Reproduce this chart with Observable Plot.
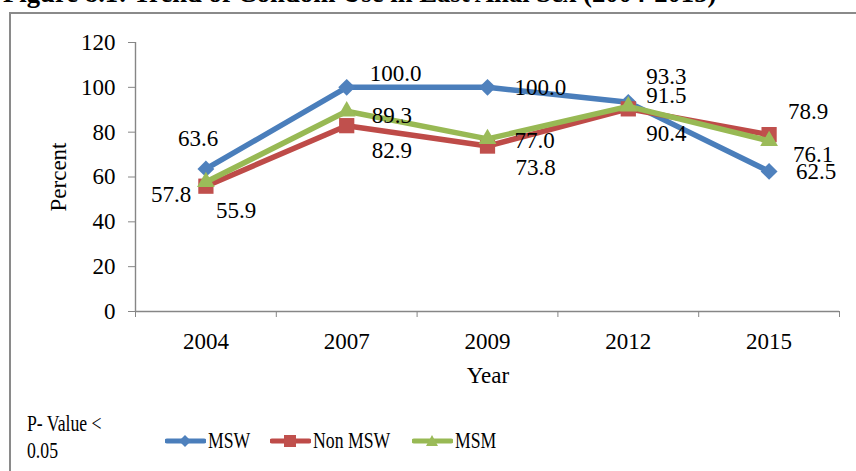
<!DOCTYPE html>
<html>
<head>
<meta charset="utf-8">
<script src="https://cdn.jsdelivr.net/npm/d3@7"></script>
<script src="https://cdn.jsdelivr.net/npm/@observablehq/plot@0.6"></script>
<style>
  html, body { margin: 0; padding: 0; background: #fff; overflow: hidden; }
  #wrap { position: relative; width: 856px; height: 471px; overflow: hidden; font-family: "Liberation Serif", "Times New Roman", serif; color: #000; }
  #frame { position: absolute; left: 9px; top: 12px; width: 900px; height: 520px; border: 2px solid #8a8a8a; box-sizing: border-box; }
  #title { position: absolute; left: 3px; top: -22px; font-weight: bold; font-size: 26.7px; white-space: nowrap; line-height: 30px; }
  #chart { position: absolute; left: 0; top: 0; }
  #chart text { font-family: "Liberation Serif", "Times New Roman", serif !important; }
  .txt { position: absolute; font-size: 23px; white-space: nowrap; line-height: 1; }
  .cond { transform-origin: left center; transform: scaleX(0.77); }
  #ylab { left: 57.5px; top: 177px; transform: translate(-50%, -50%) rotate(-90deg); }
  #xlab { left: 488px; top: 375px; transform: translate(-50%, -50%); }
  .leg { position: absolute; top: 429px; height: 24px; display: flex; align-items: center; }
  .leg svg { display: block; }
  .leg span { font-size: 23px; display: inline-block; transform-origin: left center; transform: scaleX(0.77); margin-left: 2px; }
</style>
</head>
<body>
<div id="wrap">
  <div id="frame"></div>
  <div id="title">Figure 8.1: Trend of Condom Use in Last Anal Sex (2004-2015)</div>
  <div id="chart"></div>
  <div id="ylab" class="txt">Percent</div>
  <div id="xlab" class="txt">Year</div>
  <div class="txt cond" style="left:27px; top:412px;">P- Value &lt;</div>
  <div class="txt cond" style="left:27px; top:439px;">0.05</div>
  <div id="legend"></div>
</div>
<script>
// ---- data ----
const years = ["2004", "2007", "2009", "2012", "2015"];
const msw = [63.6, 100.0, 100.0, 93.3, 62.5];
const nonMsw = [55.9, 82.9, 73.8, 90.4, 78.9];
const msm = [57.8, 89.3, 77.0, 91.5, 76.1];
const seriesNames = ["MSW", "Non MSW", "MSM"];
const yTicks = [0, 20, 40, 60, 80, 100, 120];

// ---- style ----
const serif = '"Liberation Serif", "Times New Roman", serif';
const axisColor = "#868686";
const styles = {
  "MSW":     {line: "#4A7EBB", fill: "#4F81BD", symbol: "diamond2", r: 7.6},
  "Non MSW": {line: "#BE4B48", fill: "#C0504D", symbol: "square", r: 8.6},
  "MSM":     {line: "#98B954", fill: "#9BBB59", symbol: "triangle", r: 6.6}
};
// label offsets (px) relative to each point: [dx, dy]
const labelOffsets = {
  "MSW":     [[-28, -30], [23, -14], [27, 0], [18, -26], [27, 0]],
  "Non MSW": [[10, 24], [25, 25], [28, 22], [18, 25], [19, -23]],
  "MSM":     [[-55, 13], [25, 4], [27, 2], [18, -11], [24, 14]]
};

const valuesBySeries = {"MSW": msw, "Non MSW": nonMsw, "MSM": msm};
const rowsBySeries = {};
for (const s of seriesNames) {
  rowsBySeries[s] = years.map((yr, i) => ({i, year: yr, series: s, value: valuesBySeries[s][i]}));
}

const idx = years.map((_, i) => i);
const bounds = d3.range(-0.5, years.length, 1);

const marks = [
  Plot.ruleY([0], {x1: -0.5, x2: years.length - 0.5, stroke: axisColor, strokeWidth: 1.4}),
  Plot.ruleX([-0.5], {y1: 0, y2: 120, stroke: axisColor, strokeWidth: 1.4}),
  Plot.axisY({ticks: yTicks, tickSize: 7, tickPadding: 13, stroke: axisColor, label: null, tickFormat: d => String(d), fontFamily: serif, fontSize: 23}),
  Plot.axisX({ticks: bounds, tickSize: 6, tickFormat: () => "", stroke: axisColor, label: null}),
  Plot.axisX({ticks: idx, tickSize: 0, tickPadding: 21, tickFormat: i => years[i], label: null, fontFamily: serif, fontSize: 23})
];

for (const s of seriesNames) {
  const st = styles[s];
  const rows = rowsBySeries[s];
  marks.push(Plot.line(rows, {x: "i", y: "value", stroke: st.line, strokeWidth: 5.5, strokeLinejoin: "round", strokeLinecap: "round"}));
  marks.push(Plot.dot(rows, {x: "i", y: "value", symbol: st.symbol, fill: st.fill, r: st.r, stroke: "none"}));
}
for (const s of seriesNames) {
  rowsBySeries[s].forEach((row, i) => {
    const [dx, dy] = labelOffsets[s][i];
    marks.push(Plot.text([row], {x: "i", y: "value", text: d => d.value.toFixed(1), dx, dy, textAnchor: "start", fill: "#000", fontFamily: serif, fontSize: 23}));
  });
}

const chart = Plot.plot({
  width: 856,
  height: 471,
  marginLeft: 135,
  marginRight: 17,
  marginTop: 42,
  marginBottom: 160,
  x: {type: "linear", domain: [-0.5, years.length - 0.5]},
  y: {domain: [0, 120]},
  style: {fontFamily: serif, fontSize: "23px", background: "transparent", color: "#000", overflow: "visible"},
  marks
});
document.getElementById("chart").appendChild(chart);

// ---- legend ----
const legend = document.getElementById("legend");
const legendX = {"MSW": 165, "Non MSW": 270, "MSM": 412};
for (const s of seriesNames) {
  const st = styles[s];
  const item = document.createElement("div");
  item.className = "leg";
  item.style.left = legendX[s] + "px";
  let sym;
  if (st.symbol === "diamond2") sym = `<path d="M20,6 L26,12 L20,18 L14,12 Z" fill="${st.fill}"/>`;
  else if (st.symbol === "square") sym = `<rect x="14" y="6" width="12" height="12" fill="${st.fill}"/>`;
  else sym = `<path d="M20,6 L26,17 L14,17 Z" fill="${st.fill}"/>`;
  item.innerHTML = `<svg width="41" height="24"><line x1="2" y1="12" x2="39" y2="12" stroke="${st.line}" stroke-width="5" stroke-linecap="round"/>${sym}</svg><span>${s}</span>`;
  legend.appendChild(item);
}
</script>
</body>
</html>
